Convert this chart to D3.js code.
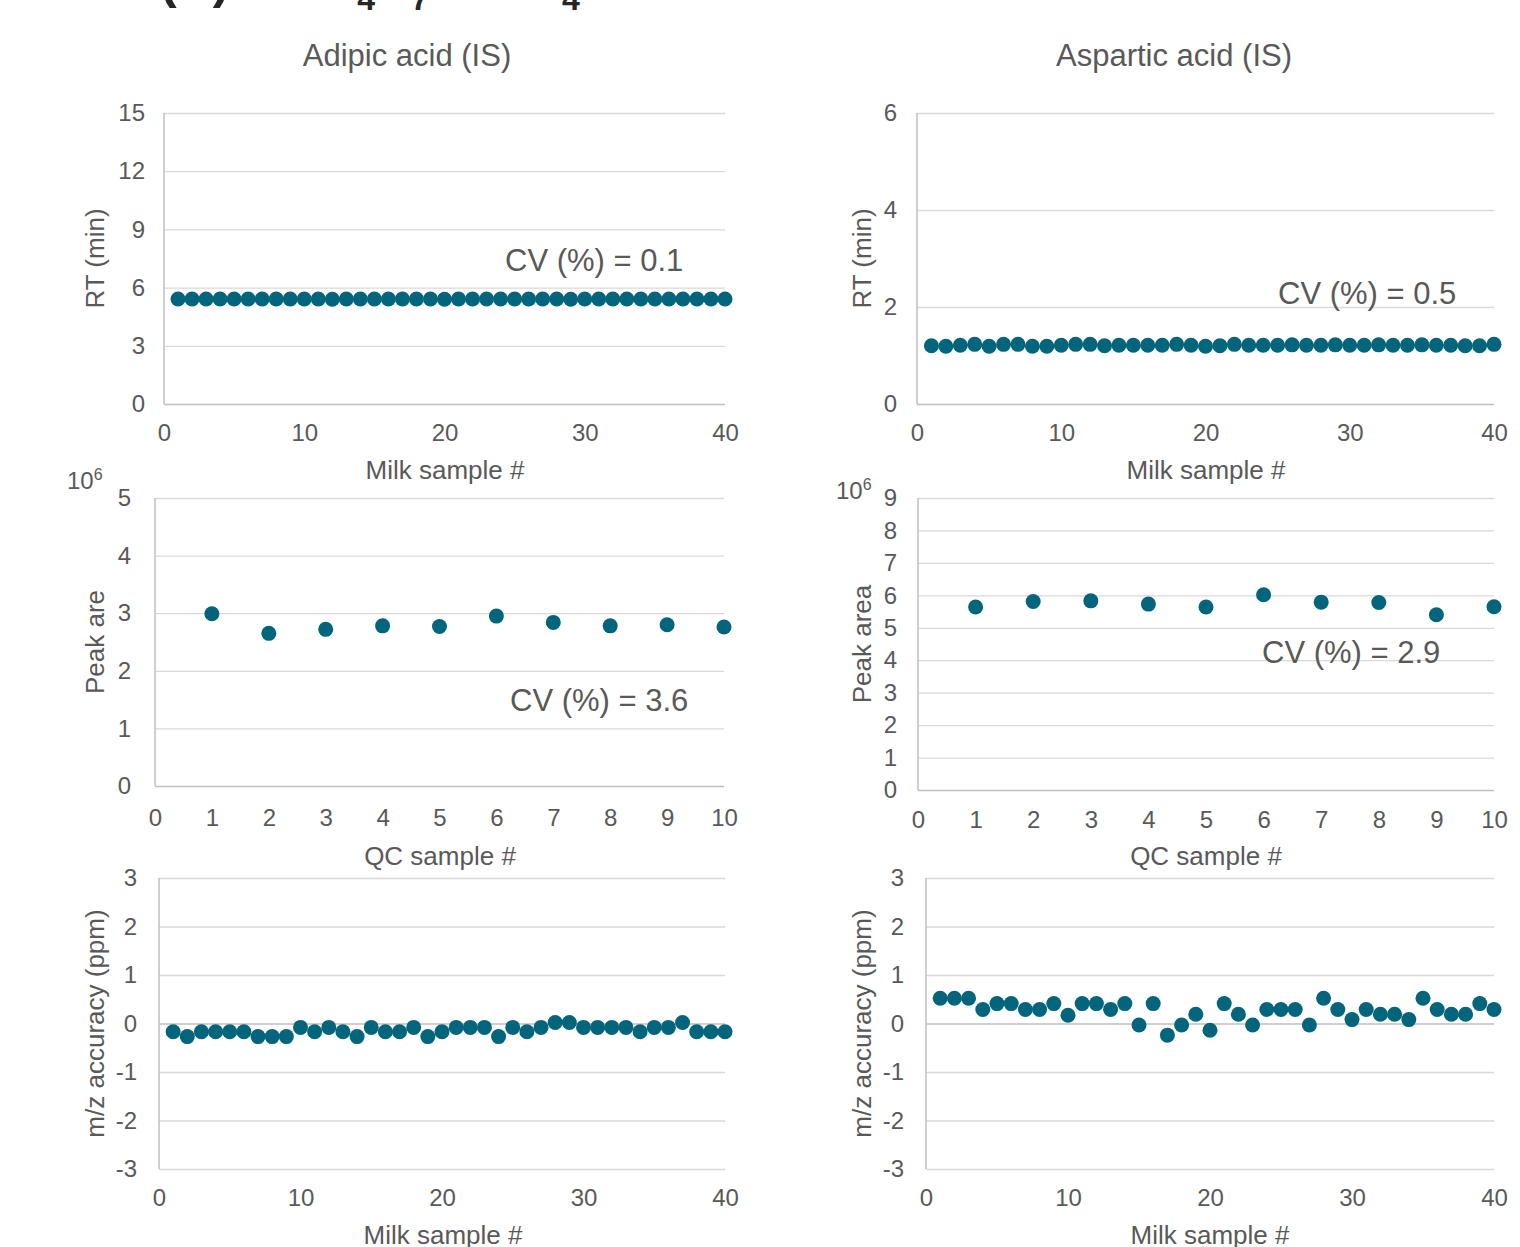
<!DOCTYPE html>
<html><head><meta charset="utf-8">
<script src="https://cdn.jsdelivr.net/npm/d3@7"></script>
<style>
body{margin:0;background:#fff;}
svg{display:block;font-family:"Liberation Sans",Arial,sans-serif;}
</style></head>
<body><svg id="c" width="1520" height="1247"></svg>
<script>
// ---- data ----
const compounds = ["Adipic acid (IS)", "Aspartic acid (IS)"];
const milkSamples = d3.range(1, 41);
const qcSamples = d3.range(1, 11);
const adipicRT = [5.41,5.41,5.41,5.41,5.41,5.41,5.41,5.41,5.41,5.41,5.41,5.40,5.41,5.41,5.41,5.41,5.41,5.41,5.41,5.40,5.41,5.41,5.41,5.41,5.41,5.41,5.41,5.41,5.40,5.41,5.41,5.41,5.41,5.41,5.41,5.41,5.41,5.41,5.41,5.41];
const asparticRT = [1.20,1.19,1.21,1.23,1.19,1.23,1.23,1.19,1.19,1.21,1.23,1.23,1.20,1.21,1.21,1.21,1.21,1.23,1.21,1.19,1.20,1.23,1.21,1.21,1.21,1.22,1.21,1.21,1.22,1.21,1.21,1.22,1.21,1.21,1.22,1.21,1.21,1.20,1.20,1.23];
const adipicArea = [2.99,2.65,2.72,2.78,2.77,2.95,2.84,2.78,2.80,2.76];
const asparticArea = [5.64,5.81,5.83,5.73,5.64,6.02,5.79,5.78,5.40,5.65];
const adipicMz = [-0.17,-0.27,-0.17,-0.17,-0.17,-0.17,-0.27,-0.27,-0.27,-0.08,-0.17,-0.08,-0.17,-0.27,-0.08,-0.17,-0.17,-0.08,-0.27,-0.17,-0.08,-0.08,-0.08,-0.27,-0.08,-0.17,-0.08,0.02,0.02,-0.08,-0.08,-0.08,-0.08,-0.17,-0.08,-0.08,0.02,-0.17,-0.17,-0.17];
const asparticMz = [0.52,0.52,0.52,0.29,0.41,0.41,0.29,0.29,0.41,0.17,0.41,0.41,0.29,0.41,-0.03,0.41,-0.24,-0.03,0.19,-0.14,0.41,0.19,-0.03,0.29,0.29,0.29,-0.03,0.52,0.29,0.08,0.29,0.19,0.19,0.08,0.52,0.29,0.19,0.19,0.41,0.29];
const cvLabels = ["CV (%) = 0.1","CV (%) = 0.5","CV (%) = 3.6","CV (%) = 2.9"];
const rtTicks = [[0,3,6,9,12,15],[0,2,4,6]];
const areaTicks = [[0,1,2,3,4,5],[0,1,2,3,4,5,6,7,8,9]];
const mzTicks = [-3,-2,-1,0,1,2,3];
const milkTicks = [0,10,20,30,40];
const qcTicks = d3.range(0,11);

const TEXT = "#595959", GRID = "#d9d9d9", AXIS = "#bfbfbf", DOT = "#03657c";
const svg = d3.select("#c");

// heading at the very top (mostly cut off by the page edge, as in the source figure)
const head = svg.append("text").attr("x", 160).attr("y", -2)
  .attr("font-size", 50).attr("font-weight", "bold").attr("fill", "#262626")
  .attr("font-family", "'Liberation Sans',Arial,sans-serif");
head.append("tspan").text("(A) IS: C");
head.append("tspan").attr("font-size", 32).attr("dy", 12).text("4");
head.append("tspan").attr("dy", -12).text("H");
head.append("tspan").attr("font-size", 32).attr("dy", 12).text("7");
head.append("tspan").attr("dy", -12).attr("dx", 58).text("NO");
head.append("tspan").attr("font-size", 32).attr("dy", 12).text("4");

const panels = [
  {L:164,R:725,T:113,B:404, xd:[0,40], xt:milkTicks, yd:[0,15], yt:rtTicks[0], xs:milkSamples, ys:adipicRT,
   ylab:"RT (min)", ylx:95, xlab:"Milk sample #", xlx:445, xly:479, cv:cvLabels[0], cvx:505, cvy:271, ypad:19, xpad:20},
  {L:917,R:1494,T:113,B:404, xd:[0,40], xt:milkTicks, yd:[0,6], yt:rtTicks[1], xs:milkSamples, ys:asparticRT,
   ylab:"RT (min)", ylx:862, xlab:"Milk sample #", xlx:1206, xly:479, cv:cvLabels[1], cvx:1278, cvy:304, ypad:20, xpad:20},
  {L:155,R:724,T:498,B:786, xd:[0,10], xt:qcTicks, yd:[0,5], yt:areaTicks[0], xs:qcSamples, ys:adipicArea,
   ylab:"Peak are", ylx:95, xlab:"QC sample #", xlx:440, xly:865, cv:cvLabels[2], cvx:510, cvy:711, ypad:24, xpad:23, exp:[67,489]},
  {L:918,R:1494,T:498,B:790, xd:[0,10], xt:qcTicks, yd:[0,9], yt:areaTicks[1], xs:qcSamples, ys:asparticArea,
   ylab:"Peak area", ylx:862, xlab:"QC sample #", xlx:1206, xly:865, cv:cvLabels[3], cvx:1262, cvy:663, ypad:21, xpad:21, exp:[836,499]},
  {L:159,R:725,T:878,B:1169, xd:[0,40], xt:milkTicks, yd:[-3,3], yt:mzTicks, xs:milkSamples, ys:adipicMz,
   ylab:"m/z accuracy (ppm)", ylx:95, xlab:"Milk sample #", xlx:443, xly:1244, ypad:22, xpad:20},
  {L:926,R:1494,T:878,B:1169, xd:[0,40], xt:milkTicks, yd:[-3,3], yt:mzTicks, xs:milkSamples, ys:asparticMz,
   ylab:"m/z accuracy (ppm)", ylx:862, xlab:"Milk sample #", xlx:1210, xly:1244, ypad:22, xpad:20}
];

// titles
svg.append("text").attr("x", 407).attr("y", 66).attr("text-anchor","middle")
  .attr("font-size", 31).attr("fill", TEXT).text(compounds[0]);
svg.append("text").attr("x", 1174).attr("y", 66).attr("text-anchor","middle")
  .attr("font-size", 31).attr("fill", TEXT).text(compounds[1]);

const fmt = d => String(d);

panels.forEach(p => {
  const x = d3.scaleLinear().domain(p.xd).range([p.L, p.R]);
  const y = d3.scaleLinear().domain(p.yd).range([p.B, p.T]);
  const g = svg.append("g");
  // gridlines + y labels
  const ya = d3.axisLeft(y).tickValues(p.yt).tickSize(-(p.R - p.L)).tickPadding(p.ypad).tickFormat(fmt);
  const yg = g.append("g").attr("transform", `translate(${p.L},0)`).call(ya);
  yg.select(".domain").remove();
  yg.selectAll(".tick line").attr("stroke", d => (d === 0 ? AXIS : GRID)).attr("stroke-width", 1.3);
  yg.selectAll(".tick text").attr("fill", TEXT).attr("font-size", 24).attr("font-family", "'Liberation Sans',Arial,sans-serif");
  // y axis line
  g.append("line").attr("x1", p.L).attr("x2", p.L).attr("y1", p.T).attr("y2", p.B)
    .attr("stroke", AXIS).attr("stroke-width", 1.5);
  // x labels
  const xa = d3.axisBottom(x).tickValues(p.xt).tickSize(0).tickPadding(p.xpad).tickFormat(fmt);
  const xg = g.append("g").attr("transform", `translate(0,${p.B})`).call(xa);
  xg.select(".domain").remove();
  xg.selectAll(".tick text").attr("fill", TEXT).attr("font-size", 24).attr("font-family", "'Liberation Sans',Arial,sans-serif");
  // axis titles
  g.append("text").attr("transform", `translate(${p.ylx + 9},${(p.T + p.B) / 2}) rotate(-90)`)
    .attr("text-anchor", "middle").attr("font-size", 26).attr("fill", TEXT).text(p.ylab);
  g.append("text").attr("x", p.xlx).attr("y", p.xly).attr("text-anchor", "middle")
    .attr("font-size", 26).attr("fill", TEXT).text(p.xlab);
  if (p.cv) g.append("text").attr("x", p.cvx).attr("y", p.cvy).attr("font-size", 31).attr("fill", TEXT).text(p.cv);
  if (p.exp) {
    const t = g.append("text").attr("x", p.exp[0]).attr("y", p.exp[1]).attr("font-size", 24).attr("fill", TEXT);
    t.append("tspan").text("10");
    t.append("tspan").attr("font-size", 16).attr("dy", -9).text("6");
  }
  // points
  g.selectAll("circle").data(p.ys).join("circle")
    .attr("cx", (d, i) => x(p.xs[i])).attr("cy", d => y(d)).attr("r", 7.5).attr("fill", DOT);
});
</script></body></html>
